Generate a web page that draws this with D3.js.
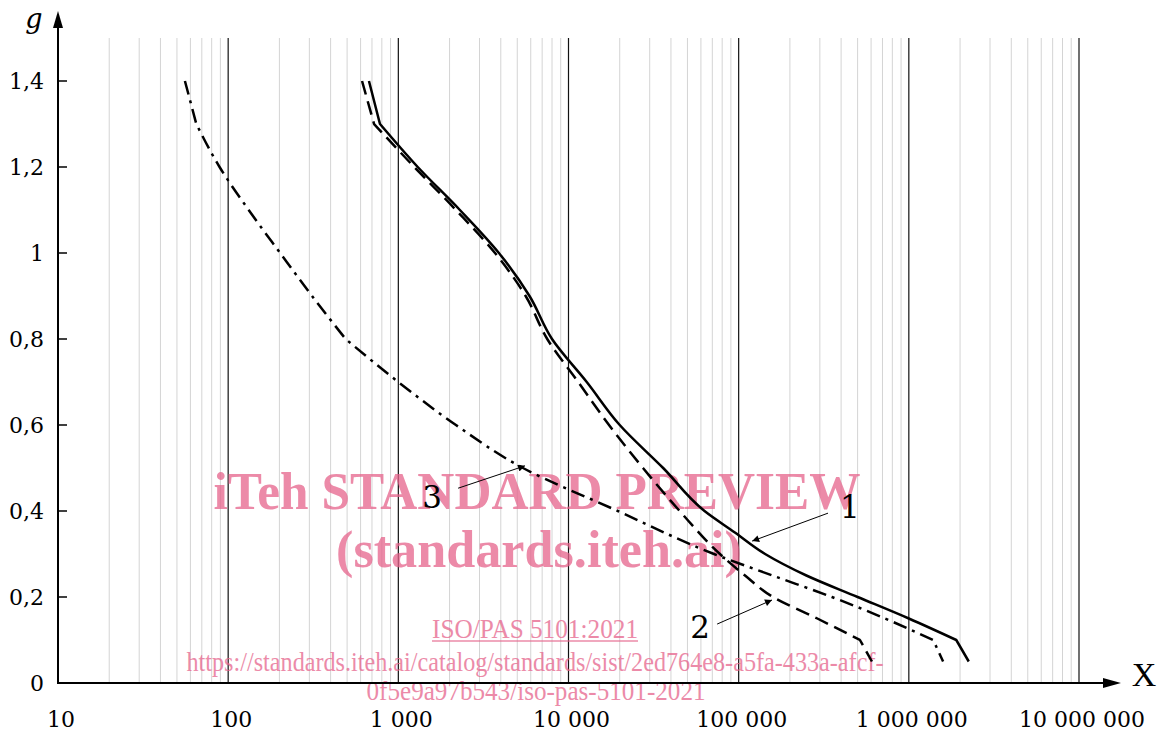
<!DOCTYPE html>
<html lang="en">
<head>
<meta charset="UTF-8">
<title>g vs X</title>
<style>
  html, body {margin: 0; padding: 0; background: #fff;}
  svg {display: block;}
  .tick-label {font-family: "DejaVu Serif", serif; font-size: 22px; fill: #000;}
  .curve {fill: none; stroke: #000; stroke-width: 2.5px; stroke-linejoin: round;}
  .wm {font-family: "Liberation Serif", serif; fill: rgb(230,100,140); opacity: 0.75;}
</style>
<script src="https://d3js.org/d3.v7.min.js"></script>
</head>
<body>
<script>
// values
var gLevels = [1.4, 1.3, 1.2, 1.1, 1.0, 0.9, 0.8, 0.7, 0.6, 0.5, 0.4, 0.3, 0.25, 0.2, 0.15, 0.1, 0.05];
var curve1G = [1.4, 1.3, 1.2, 1.1, 1.0, 0.9, 0.8, 0.7, 0.6, 0.5, 0.4, 0.35, 0.3, 0.25, 0.2, 0.15, 0.1, 0.05];
var curve1X = [672, 780, 1300, 2300, 3900, 5900, 8000, 12800, 20000, 36000, 63000, 95000, 143000, 250000, 500000, 1000000, 1900000, 2250000];
var curve2X = [612, 720, 1240, 2180, 3700, 5600, 7500, 11400, 17300, 27400, 45000, 77600, 109000, 159000, 290000, 516000, 607000];
var curve3X = [55.7, 65, 89, 132, 202, 311, 490, 1000, 2180, 5400, 19500, 71600, 158000, 353000, 725000, 1390000, 1590000];
// g values where a curve has a sharp bend
var curve1Kinks = [1.3, 0.1];
var curve2Kinks = [1.3, 0.1];
var curve3Kinks = [1.3, 0.8, 0.1];
var xTicks = [10, 100, 1000, 10000, 100000, 1000000, 10000000];
var xTickLabels = ['10', '100', '1 000', '10 000', '100 000', '1 000 000', '10 000 000'];
var yTicks = [0, 0.2, 0.4, 0.6, 0.8, 1, 1.2, 1.4];
var yTickLabels = ['0', '0,2', '0,4', '0,6', '0,8', '1', '1,2', '1,4'];
// annotation callouts: label, label position, arrow start, arrow end (data coords)
var callouts = [
  {label: '1', lx: 451000, lg: 0.384, x0: 335000, g0: 0.395, x1: 120000, g1: 0.330},
  {label: '2', lx: 59300, lg: 0.105, x0: 74700, g0: 0.137, x1: 157000, g1: 0.193},
  {label: '3', lx: 1578, lg: 0.407, x0: 2245, g0: 0.453, x1: 5550, g1: 0.505}
];
</script>
<script>
var width = 1162, height = 734;
var svg = d3.select('body').append('svg').attr('width', width).attr('height', height);

var x = d3.scaleLog().domain([10, 1e7]).range([58, 1079]);
var y = d3.scaleLinear().domain([0, 1.4]).range([683, 81]);
var gridTop = y(1.5);

// grid
var minor = [];
for (var d = 10; d < 1e7; d *= 10) {
  for (var k = 2; k <= 9; k++) minor.push(k * d);
}
svg.append('g').selectAll('line').data(minor).enter().append('line')
  .attr('x1', function (v) { return x(v); }).attr('x2', function (v) { return x(v); })
  .attr('y1', gridTop).attr('y2', y(0))
  .attr('stroke', '#d4d4d4').attr('stroke-width', 1);
svg.append('g').selectAll('line').data(xTicks.slice(1)).enter().append('line')
  .attr('x1', function (v) { return x(v); }).attr('x2', function (v) { return x(v); })
  .attr('y1', gridTop).attr('y2', y(0))
  .attr('stroke', '#111').attr('stroke-width', 1.2);

// watermark
var wm = svg.append('g');
wm.append('text').attr('class', 'wm').attr('x', 537).attr('y', 509).attr('text-anchor', 'middle')
  .attr('font-size', 52).attr('font-weight', 'bold')
  .attr('textLength', 647).attr('lengthAdjust', 'spacingAndGlyphs').text('iTeh STANDARD PREVIEW');
wm.append('text').attr('class', 'wm').attr('x', 539).attr('y', 567).attr('text-anchor', 'middle')
  .attr('font-size', 52).attr('font-weight', 'bold')
  .attr('textLength', 406).attr('lengthAdjust', 'spacingAndGlyphs').text('(standards.iteh.ai)');
wm.append('text').attr('class', 'wm').attr('x', 535).attr('y', 638).attr('text-anchor', 'middle')
  .attr('font-size', 27)
  .attr('textLength', 206).attr('lengthAdjust', 'spacingAndGlyphs').text('ISO/PAS 5101:2021');
wm.append('line').attr('x1', 432).attr('x2', 638).attr('y1', 641).attr('y2', 641)
  .attr('stroke', 'rgb(230,100,140)').attr('stroke-width', 1.3).attr('opacity', 0.75);
wm.append('text').attr('class', 'wm').attr('x', 535).attr('y', 671).attr('text-anchor', 'middle')
  .attr('font-size', 27)
  .attr('textLength', 697).attr('lengthAdjust', 'spacingAndGlyphs')
  .text('https://standards.iteh.ai/catalog/standards/sist/2ed764e8-a5fa-433a-afcf-');
wm.append('text').attr('class', 'wm').attr('x', 536).attr('y', 700).attr('text-anchor', 'middle')
  .attr('font-size', 27)
  .attr('textLength', 339).attr('lengthAdjust', 'spacingAndGlyphs')
  .text('0f5e9a97b543/iso-pas-5101-2021');

// curves: smooth between kinks, sharp at kinks; one path so dashes run on
var smooth = d3.line().curve(d3.curveMonotoneY)
  .x(function (d) { return x(d[0]); }).y(function (d) { return y(d[1]); });
function curvePath(xs, gs, kinks) {
  var pts = xs.map(function (v, i) { return [v, gs[i]]; });
  var cuts = [0];
  pts.forEach(function (p, i) { if (kinks.indexOf(p[1]) >= 0) cuts.push(i); });
  cuts.push(pts.length - 1);
  var out = '';
  for (var i = 0; i < cuts.length - 1; i++) {
    var seg = smooth(pts.slice(cuts[i], cuts[i + 1] + 1));
    out += (i === 0) ? seg : 'L' + seg.slice(1);
  }
  return out;
}
svg.append('path').attr('class', 'curve').attr('d', curvePath(curve1X, curve1G, curve1Kinks));
svg.append('path').attr('class', 'curve').attr('stroke-dasharray', '14,7')
  .attr('d', curvePath(curve2X, gLevels, curve2Kinks));
svg.append('path').attr('class', 'curve').attr('stroke-dasharray', '14,6,3,6')
  .attr('d', curvePath(curve3X, gLevels, curve3Kinks));

// axes
var axisCol = '#000';
svg.append('line').attr('x1', x(10)).attr('x2', 1106).attr('y1', y(0)).attr('y2', y(0))
  .attr('stroke', axisCol).attr('stroke-width', 2);
svg.append('path').attr('d', 'M1121,' + y(0) + 'L1103,' + (y(0) - 5) + 'L1103,' + (y(0) + 5) + 'Z').attr('fill', axisCol);
svg.append('line').attr('x1', x(10)).attr('x2', x(10)).attr('y1', y(0) + 1).attr('y2', 26)
  .attr('stroke', axisCol).attr('stroke-width', 2);
svg.append('path').attr('d', 'M' + x(10) + ',11L' + (x(10) - 5) + ',28L' + (x(10) + 5) + ',28Z').attr('fill', axisCol);

svg.append('g').selectAll('line').data(yTicks.slice(1)).enter().append('line')
  .attr('x1', x(10)).attr('x2', x(10) + 9)
  .attr('y1', function (v) { return y(v); }).attr('y2', function (v) { return y(v); })
  .attr('stroke', axisCol).attr('stroke-width', 1.5);

svg.append('g').selectAll('text').data(yTicks).enter().append('text')
  .attr('class', 'tick-label').attr('text-anchor', 'end')
  .attr('x', 44).attr('y', function (v) { return y(v) + 8; })
  .text(function (v, i) { return yTickLabels[i]; });

svg.append('g').selectAll('text').data(xTicks).enter().append('text')
  .attr('class', 'tick-label').attr('text-anchor', 'middle')
  .attr('x', function (v) { return x(v) + 3; }).attr('y', 727)
  .text(function (v, i) { return xTickLabels[i]; });

svg.append('text').attr('x', 34).attr('y', 28).attr('text-anchor', 'middle')
  .attr('font-family', '"DejaVu Serif", serif').attr('font-style', 'italic').attr('font-size', 27).text('g');
svg.append('text').attr('x', 1144).attr('y', 686).attr('text-anchor', 'middle')
  .attr('font-family', '"Liberation Serif", serif').attr('font-size', 34).text('X');

// callouts
svg.append('defs').append('marker').attr('id', 'arr')
  .attr('viewBox', '0 0 10 10').attr('refX', 10).attr('refY', 5)
  .attr('markerWidth', 9).attr('markerHeight', 7).attr('markerUnits', 'userSpaceOnUse')
  .attr('orient', 'auto')
  .append('path').attr('d', 'M0,0L10,5L0,10Z').attr('fill', '#000');
var co = svg.append('g').selectAll('g').data(callouts).enter().append('g');
co.append('line')
  .attr('x1', function (d) { return x(d.x0); }).attr('y1', function (d) { return y(d.g0); })
  .attr('x2', function (d) { return x(d.x1); }).attr('y2', function (d) { return y(d.g1); })
  .attr('stroke', '#000').attr('stroke-width', 1).attr('marker-end', 'url(#arr)');
co.append('text')
  .attr('x', function (d) { return x(d.lx); }).attr('y', function (d) { return y(d.lg); })
  .attr('text-anchor', 'middle').attr('font-family', '"DejaVu Serif", serif').attr('font-size', 31)
  .text(function (d) { return d.label; });
</script>
</body>
</html>
